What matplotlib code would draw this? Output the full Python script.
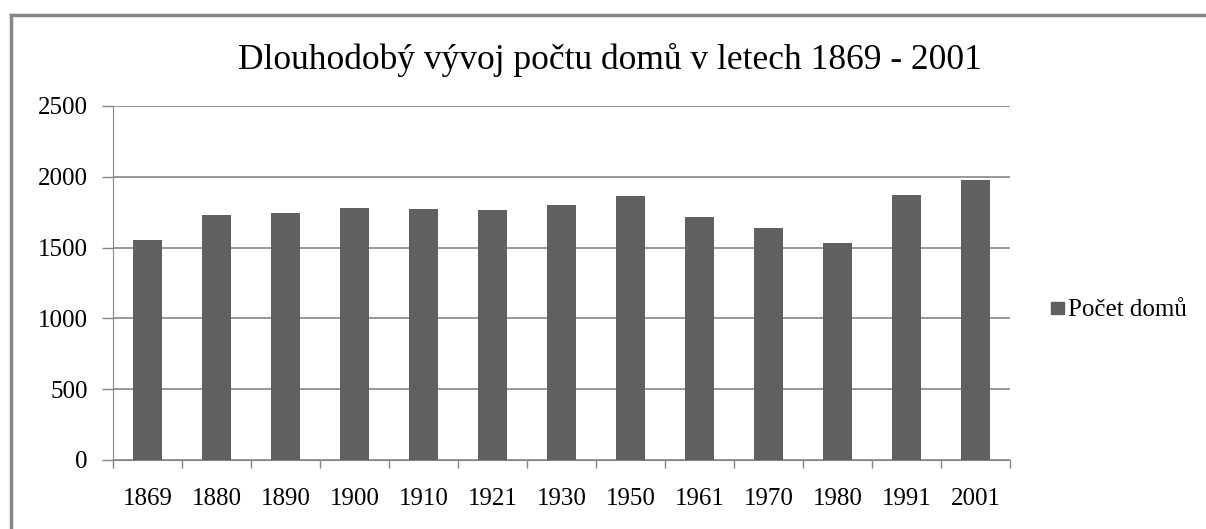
import matplotlib
matplotlib.use("Agg")
import matplotlib.pyplot as plt
from matplotlib.patches import Rectangle
from matplotlib.lines import Line2D

years = ["1869", "1880", "1890", "1900", "1910", "1921", "1930",
         "1950", "1961", "1970", "1980", "1991", "2001"]
houses = [1555, 1733, 1747, 1782, 1775, 1768, 1803,
          1867, 1718, 1640, 1534, 1874, 1974]
yticks = [0, 500, 1000, 1500, 2000, 2500]
title = "Dlouhodobý vývoj počtu domů v letech 1869 - 2001"
series_name = "Počet domů"

plt.rcParams['font.family'] = ['Liberation Serif', 'DejaVu Serif']

W, H = 1206, 529
fig = plt.figure(figsize=(W / 100, H / 100), dpi=100)
gray = "#868686"
barc = "#606060"

# outer chart border (top and left visible)
fig.add_artist(Line2D([10.5 / W, 1.0], [1 - 15 / H, 1 - 15 / H], color=gray, lw=2.5,
                      transform=fig.transFigure))
fig.add_artist(Line2D([10.5 / W, 10.5 / W], [0, 1 - 15 / H], color=gray, lw=2.5,
                      transform=fig.transFigure))

left, right, top, bottom = 113, 1010, 106, 460
ax = fig.add_axes([left / W, 1 - bottom / H, (right - left) / W, (bottom - top) / H])

x = list(range(len(years)))
ax.bar(x, houses, width=0.42, color=barc, zorder=3)
ax.set_xlim(-0.5, len(years) - 0.5)
ax.set_ylim(0, 2500)
ax.set_yticks(yticks)
ax.set_yticklabels([str(v) for v in yticks], fontsize=18)
ax.set_xticks(x)
ax.set_xticklabels(years, fontsize=18)
ax.set_xticks([i - 0.5 for i in range(len(years) + 1)], minor=True)
ax.tick_params(axis='x', which='major', length=0, pad=20)
ax.tick_params(axis='x', which='minor', length=6, color=gray, width=1)
ax.tick_params(axis='y', length=8, color=gray, width=1, pad=10)
ax.grid(axis='y', color=gray, lw=1.2, zorder=0)
for s in ['top', 'right']:
    ax.spines[s].set_visible(False)
ax.spines['left'].set_color(gray)
ax.spines['bottom'].set_color(gray)

fig.text(610 / W, 1 - 60 / H, title, fontsize=25.5, ha='center', va='center')

# legend
fig.add_artist(Rectangle((1051 / W, 1 - 314 / H), 13 / W, 12 / H, color=barc,
                         transform=fig.transFigure))
fig.text(1068 / W, 1 - 310 / H, series_name, fontsize=18, ha='left', va='center')

fig.savefig("out.png", dpi=100)
